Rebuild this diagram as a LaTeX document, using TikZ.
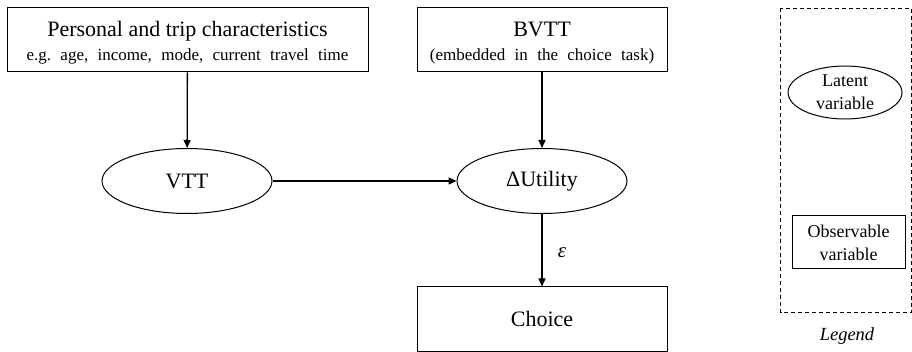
\documentclass[tikz,border=0pt]{standalone}
\usepackage{fontspec}
\setmainfont{Liberation Serif}
\usetikzlibrary{shapes.geometric,arrows.meta}
\newcommand\wsp{\hskip0.55em\relax}
\begin{document}
\begin{tikzpicture}[x=1pt,y=-1pt,
  obsbox/.style={draw,line width=1pt,minimum width=#1,minimum height=64pt,inner sep=0pt},
  latent/.style={draw,ellipse,line width=1pt,minimum width=170pt,minimum height=65pt,inner sep=0pt},
  conn/.style={line width=1.3pt,-{Triangle[length=8pt,width=7pt]}},
  big/.style={font=\fontsize{22}{24}\selectfont},
  small/.style={font=\fontsize{17}{20}\selectfont,anchor=base,inner sep=0pt},
  leg/.style={font=\fontsize{18}{20}\selectfont,anchor=base,inner sep=0pt},
]
\useasboundingbox (0,0) rectangle (912,352);
% observable boxes
\node[obsbox=361pt] (pers) at (187.5,40) {};
\node[big,anchor=base,inner sep=0pt] (perst) at (187.5,37) {Personal and trip characteristics};
\node[small] (perss) at (187.5,60.5) {e.g.\wsp age,\wsp income,\wsp mode,\wsp current\wsp travel\wsp time};
\node[obsbox=250pt] (bvtt) at (542,40) {};
\node[big,anchor=base,inner sep=0pt] (bvttt) at (542,37) {BVTT};
\node[small] (bvtts) at (542,60.5) {(embedded\wsp in\wsp the\wsp choice\wsp task)};
% latent variables
\node[latent,big] (vtt) at (187,181) {VTT};
\node[latent,big] (du) at (542,181) {ΔUtility};
\node[obsbox=250pt,big] (choice) at (542,319) {Choice};
% connectors
\draw[conn] (pers) -- (vtt);
\draw[conn] (bvtt) -- (du);
\draw[conn] (vtt) -- (du);
\draw[conn] (du) -- (choice);
\node[font=\fontsize{21}{22}\selectfont\itshape,anchor=base,inner sep=0pt] (eps) at (562,258) {ε};
% legend
\draw[dash pattern=on 4pt off 3pt,line width=1pt] (780.5,8.5) rectangle (911,313);
\node[draw,ellipse,line width=1pt,minimum width=114pt,minimum height=53pt,inner sep=0pt] (lat) at (845,92.5) {};
\node[leg] (latt1) at (845,87) {Latent};
\node[leg] (latt2) at (845,110) {variable};
\node[draw,line width=1pt,minimum width=113pt,minimum height=53pt,inner sep=0pt] (obs) at (848.5,242.5) {};
\node[leg] (obst1) at (848.5,238) {Observable};
\node[leg] (obst2) at (848.5,260.5) {variable};
\node[font=\fontsize{18.5}{20}\selectfont\itshape,anchor=base,inner sep=0pt] (legt) at (847,340) {Legend};
\end{tikzpicture}
\end{document}
